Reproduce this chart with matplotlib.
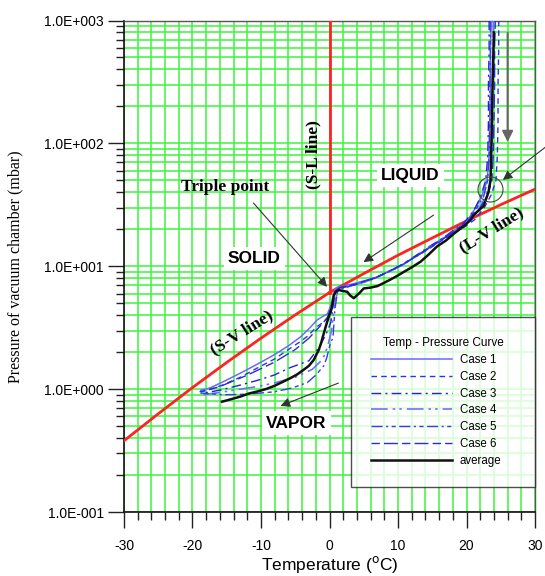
import matplotlib
matplotlib.use("Agg")
import matplotlib.pyplot as plt
from matplotlib.ticker import FixedLocator, LogLocator, NullFormatter

# ---------------- data ----------------
sv_T = [-30, -25, -20, -15, -10, -5, 0]
sv_P = [0.38, 0.63, 1.03, 1.65, 2.60, 4.02, 6.11]
lv_T = [0, 5, 10, 15, 20, 25, 30]
lv_P = [6.11, 8.72, 12.3, 17.0, 23.4, 31.7, 42.4]
sl_T = [0, 0]
sl_P = [6.11, 1000]

avg_T = [24.0, 23.9, 23.8, 23.7, 23.6, 23.5, 23.2, 22.5, 21.0, 20.6, 19.5, 18.2, 17.0,
         15.7, 14.5, 13.3, 12.0, 10.85, 9.8, 8.9, 7.9, 7.0, 6.0, 5.0, 4.3, 3.55, 3.0,
         2.58, 1.9, 1.36, 0.9, 0.63, 0.39, 0.2, -0.1, -0.5, -0.83, -1.2, -1.56, -2.3,
         -3.0, -3.75, -4.7, -5.7, -6.9, -8.1, -9.3, -10.6, -11.8, -13.0, -14.3, -15.7]
avg_P = [800, 500, 300, 150, 80, 50, 40, 31, 26, 23.8, 21, 18.5, 16.2,
         14.5, 12.5, 10.9, 9.8, 9.0, 8.3, 7.8, 7.3, 6.9, 6.7, 6.6, 6.0, 5.5, 5.8,
         6.2, 6.3, 6.4, 6.2, 5.8, 4.8, 4.3, 3.9, 3.3, 2.85, 2.4, 2.09, 1.73,
         1.55, 1.44, 1.32, 1.23, 1.14, 1.06, 1.0, 0.955, 0.92, 0.87, 0.83, 0.79]

case1_T = [23.6, 23.5, 23.5, 23.4, 23.3, 23.0, 22.3, 21.5, 20.0, 18.5, 17.0, 15.5, 14.0,
           12.5, 11.0, 9.5, 8.0, 6.5, 5.0, 3.5, 2.0, 1.0, 0.6, 0.2, -0.3, -1.0, -1.8,
           -3.0, -4.2, -6.0, -8.1, -10.5, -13.0, -15.5, -17.5, -18.8]
case1_P = [1000, 600, 300, 150, 80, 50, 38, 31, 23, 20, 17.5, 15.5, 13.5,
           12.0, 10.5, 9.5, 8.7, 8.0, 7.6, 7.2, 6.9, 6.7, 6.0, 4.8, 4.1, 3.9, 3.66,
           3.1, 2.67, 2.25, 1.9, 1.6, 1.35, 1.15, 1.02, 0.98]

case2_T = [24.7, 24.7, 24.6, 24.6, 24.5, 24.3, 23.6, 22.6, 21.2, 19.8, 18.0, 16.4, 14.8,
           13.0, 11.4, 9.8, 8.3, 6.8, 5.2, 3.8, 2.4, 1.3, 0.8, 0.4, -0.2, -0.9, -1.9,
           -3.2, -4.2, -6.0, -8.1, -10.6, -13.0, -15.6, -17.8, -19.0]
case2_P = [1000, 600, 300, 150, 80, 50, 38, 30, 24, 21, 18.5, 16.2, 14.2,
           12.3, 11.0, 9.8, 8.9, 8.1, 7.5, 7.1, 6.8, 6.6, 6.1, 4.6, 3.9, 3.5, 3.2,
           2.7, 2.45, 2.1, 1.75, 1.48, 1.25, 1.08, 0.98, 0.95]

case3_T = [23.3, 23.3, 23.2, 23.2, 23.1, 22.8, 22.0, 21.0, 19.6, 18.0, 16.6, 15.0, 13.5,
           12.0, 10.5, 9.0, 7.6, 6.2, 4.8, 3.3, 2.1, 1.1, 0.7, 0.2, -0.5, -1.5, -3.0,
           -5.7, -8.1, -10.5, -13.0, -16.0, -18.8]
case3_P = [1000, 600, 300, 150, 80, 50, 36, 28, 22.5, 19.5, 17.0, 15.0, 13.2,
           11.6, 10.2, 9.3, 8.5, 7.8, 7.4, 7.0, 6.8, 6.5, 5.6, 3.5, 2.8, 2.2, 1.7,
           1.5, 1.3, 1.18, 1.08, 0.98, 0.92]

case4_T = [23.9, 23.9, 23.8, 23.8, 23.7, 23.5, 22.8, 21.8, 20.4, 18.8, 17.3, 15.8, 14.3,
           12.7, 11.2, 9.7, 8.2, 6.7, 5.3, 3.8, 2.3, 1.3, 0.8, 0.3, -0.3, -1.0, -2.5,
           -5.0, -8.1, -10.5, -13.0, -16.0, -18.5]
case4_P = [1000, 600, 300, 150, 80, 50, 37, 29, 23.5, 20.5, 17.8, 15.8, 13.9,
           12.1, 10.8, 9.6, 8.8, 8.0, 7.5, 7.1, 6.7, 6.5, 5.2, 3.0, 2.2, 1.75, 1.45,
           1.25, 1.12, 1.05, 1.0, 0.94, 0.9]

case5_T = [23.5, 23.5, 23.4, 23.4, 23.3, 23.1, 22.5, 21.4, 20.1, 18.4, 16.9, 15.4, 13.8,
           12.3, 10.8, 9.3, 7.8, 6.4, 5.0, 3.5, 2.2, 1.2, 0.8, 0.5, 0.15, -0.4, -0.83,
           -2.0, -3.25, -5.5, -8.1, -12.0, -15.4, -18.8]
case5_P = [1000, 600, 300, 150, 80, 50, 37, 29, 23, 19.8, 17.3, 15.2, 13.3,
           11.8, 10.4, 9.4, 8.6, 7.9, 7.5, 7.0, 6.7, 6.4, 4.5, 2.6, 2.4, 1.8, 1.55,
           1.3, 1.13, 1.02, 0.95, 0.91, 0.9, 0.93]

case6_T = [24.2, 24.1, 24.1, 24.0, 23.9, 23.7, 23.1, 22.0, 20.7, 19.2, 17.6, 16.1, 14.5,
           13.0, 11.5, 10.0, 8.5, 7.0, 5.5, 4.0, 2.6, 1.5, 0.9, 0.4, -0.3, -1.5, -3.0,
           -5.0, -8.1, -12.0, -16.0, -18.8]
case6_P = [1000, 600, 300, 150, 80, 50, 38, 30, 24, 21, 18.2, 16.0, 14.0,
           12.4, 11.0, 9.9, 9.0, 8.2, 7.7, 7.2, 6.9, 6.7, 6.3, 5.0, 3.8, 3.2, 2.6,
           2.1, 1.65, 1.3, 1.05, 0.95]

case_labels = ["Case 1", "Case 2", "Case 3", "Case 4", "Case 5", "Case 6"]
x_major = [-30, -20, -10, 0, 10, 20, 30]
y_major = [1e-1, 1e0, 1e1, 1e2, 1e3]
y_labels = ["1.0E-001", "1.0E+000", "1.0E+001", "1.0E+002", "1.0E+003"]

# ---------------- figure ----------------
plt.rcParams['font.family'] = ['Liberation Sans', 'DejaVu Sans']
fig = plt.figure(figsize=(5.45, 5.76), dpi=100)
ax = fig.add_axes([0.2275, 0.1111, 0.7542, 0.8533])

ax.set_yscale('log')
ax.set_xlim(-30, 30)
ax.set_ylim(1e-1, 1e3)

ax.xaxis.set_major_locator(FixedLocator(x_major))
ax.xaxis.set_minor_locator(FixedLocator(list(range(-30, 31, 2))))
ax.yaxis.set_major_locator(FixedLocator(y_major))
ax.yaxis.set_minor_locator(LogLocator(base=10, subs=range(2, 10)))
ax.yaxis.set_minor_formatter(NullFormatter())
ax.set_yticklabels(y_labels)
ax.set_xticklabels([str(v) for v in x_major])

green = '#3cf53c'
ax.grid(True, which='both', axis='both', color=green, lw=1.1, zorder=0)
ax.set_axisbelow(True)

ax.tick_params(axis='both', which='major', direction='out', length=11.5, width=1,
               color='#222222', labelsize=10)
ax.tick_params(axis='x', which='major', pad=8)
ax.tick_params(axis='y', which='major', pad=3)
ax.tick_params(axis='both', which='minor', direction='out', length=5.5, width=1,
               color='#222222')
for s in ['left', 'bottom']:
    ax.spines[s].set_color('#111111')
    ax.spines[s].set_linewidth(1.2)
for s in ['top', 'right']:
    ax.spines[s].set_color('#555555')
    ax.spines[s].set_linewidth(1.0)

red = '#ff2222'
ax.plot(sv_T, sv_P, color=red, lw=2, zorder=3)
ax.plot(lv_T, lv_P, color=red, lw=2, zorder=3)
ax.plot(sl_T, sl_P, color=red, lw=2, zorder=3)

cases = [(case1_T, case1_P), (case2_T, case2_P), (case3_T, case3_P),
         (case4_T, case4_P), (case5_T, case5_P), (case6_T, case6_P)]
styles = [dict(color='#6a6aff', ls='-', lw=1.1),
          dict(color='#3030ee', ls=(0, (4, 3)), lw=1.0),
          dict(color='#2020e0', ls=(0, (7, 3, 1.5, 3)), lw=1.0),
          dict(color='#7070ff', ls=(0, (10, 3, 1.5, 2.5, 1.5, 3)), lw=1.2),
          dict(color='#3a3ae8', ls=(0, (8, 2.5, 1.5, 2.5, 3, 2.5)), lw=1.0),
          dict(color='#2a2ad8', ls=(0, (6, 3, 10, 3)), lw=1.0)]
for (t, p), st, lab in zip(cases, styles, case_labels):
    ax.plot(t, p, label=lab, zorder=4, **st)
ax.plot(avg_T, avg_P, color='#111111', lw=1.8, label='average', zorder=5)

# ---------------- annotations ----------------
serif = ['Liberation Serif', 'DejaVu Serif']
arr = dict(arrowstyle='-|>', color='#333333', lw=0.8, mutation_scale=14, shrinkA=0, shrinkB=0)

ax.text(-15.2, 44.2, 'Triple point', family=serif, fontweight='bold', fontsize=12.5,
        ha='center', va='center', zorder=6)
ax.annotate('', xy=(-0.35, 6.8), xytext=(-11.1, 32.7), arrowprops=arr, zorder=6)

ax.text(-2.34, 80.5, '(S-L line)', family=serif, fontweight='bold', fontsize=12.5,
        rotation=90, ha='center', va='center', zorder=6)

ax.text(11.8, 55, 'LIQUID', fontweight='bold', fontsize=12.5, ha='center', va='center',
        zorder=6, bbox=dict(facecolor='white', edgecolor='none', pad=3))
ax.annotate('', xy=(4.96, 10.8), xytext=(15.2, 26.1), arrowprops=arr, zorder=6)

ax.text(-11.0, 11.5, 'SOLID', fontweight='bold', fontsize=12.5, ha='center', va='center',
        zorder=6, bbox=dict(facecolor='white', edgecolor='none', pad=3))

ax.text(-12.85, 2.87, '(S-V line)', family=serif, fontweight='bold', fontsize=12.5,
        rotation=32, ha='center', va='center', zorder=6)

ax.text(-4.8, 0.53, 'VAPOR', fontweight='bold', fontsize=12.5, ha='center', va='center',
        zorder=6, bbox=dict(facecolor='white', edgecolor='none', pad=3))
ax.annotate('', xy=(-7.15, 0.73), xytext=(1.3, 1.12), arrowprops=arr, zorder=6)

ax.text(23.7, 19.7, '(L-V line)', family=serif, fontweight='bold', fontsize=12.5,
        rotation=32, ha='center', va='center', zorder=6)

ax.plot([23.5], [42.2], marker='o', ms=18, mfc='none', mec='#444444', mew=0.8, zorder=6)
ax.annotate('', xy=(25.3, 50.4), xytext=(31.5, 93), arrowprops=arr, zorder=6,
            annotation_clip=False)
ax.annotate('', xy=(26.0, 102.6), xytext=(26.0, 790),
            arrowprops=dict(arrowstyle='-|>', color='#666666', lw=1.5, mutation_scale=16,
                            shrinkA=0, shrinkB=0, facecolor='#222222'), zorder=6)

# ---------------- labels ----------------
ax.set_xlabel('Temperature ($^{\\mathrm{o}}$C)', fontsize=12.5, labelpad=1)
ax.set_ylabel('Pressure of vacuum chamber (mbar)', family=serif, fontsize=11.5, labelpad=15)

leg = ax.legend(loc='upper left', bbox_to_anchor=(0.552, 0.0, 0.448, 0.397),
                mode='expand', borderaxespad=0, fontsize=8.3, title='Temp - Pressure Curve',
                title_fontsize=8.5, frameon=True, fancybox=False, handlelength=7.0,
                handletextpad=0.7, labelspacing=0.42, borderpad=1.75)
leg.get_frame().set_edgecolor('#222222')
leg.get_frame().set_linewidth(1.0)
leg.set_zorder(7)

fig.savefig('out.png', dpi=100)
